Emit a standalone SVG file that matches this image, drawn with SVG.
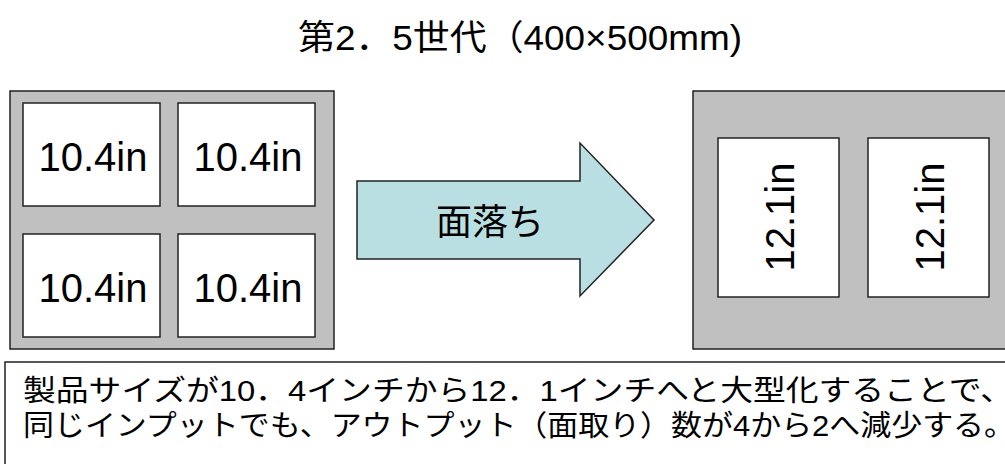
<svg xmlns="http://www.w3.org/2000/svg" width="1005" height="464" viewBox="0 0 1005 464">
<style>
.panel{fill:#C0C0C0;stroke:#222;stroke-width:1.5}
.cell{fill:#FFFFFF;stroke:#222;stroke-width:1.5}
.t{font-family:"Liberation Sans","Noto Sans CJK JP",sans-serif;fill:#000}
.lbl{font-size:40px;text-anchor:middle}
</style>
<rect width="1005" height="464" fill="#FFFFFF"/>
<g id="title"><text class="t" x="298" y="50" font-size="35" textLength="444" lengthAdjust="spacingAndGlyphs">第2．5世代（400×500mm)</text></g>
<g id="left-panel">
<rect class="panel" x="10" y="91" width="324" height="258"/>
</g>
<g id="cell-1"><rect class="cell" x="23" y="103" width="137" height="103"/><text class="t lbl" x="93" y="171">10.4in</text></g>
<g id="cell-2"><rect class="cell" x="178" y="103" width="137" height="103"/><text class="t lbl" x="248" y="171">10.4in</text></g>
<g id="cell-3"><rect class="cell" x="23" y="234" width="137" height="103"/><text class="t lbl" x="93" y="302">10.4in</text></g>
<g id="cell-4"><rect class="cell" x="178" y="234" width="137" height="103"/><text class="t lbl" x="248" y="302">10.4in</text></g>
<g id="connectors">
<g id="arrow">
<polygon points="357,181 580,181 580,143 654,220 580,296 580,259 357,259" fill="#B9DFE3" stroke="#222" stroke-width="1.5"/>
<text class="t" x="490" y="235" font-size="36" text-anchor="middle">面落ち</text>
</g>
</g>
<g id="right-panel">
<rect class="panel" x="693" y="91" width="330" height="258"/>
</g>
<g id="cell-5"><rect class="cell" x="718" y="138" width="121" height="159"/><text class="t lbl" transform="translate(794,217) rotate(-90)" x="0" y="0">12.1in</text></g>
<g id="cell-6"><rect class="cell" x="868" y="138" width="121" height="159"/><text class="t lbl" transform="translate(944,217) rotate(-90)" x="0" y="0">12.1in</text></g>
<g id="note">
<rect x="5" y="362" width="1030" height="120" fill="#FFFFFF" stroke="#222" stroke-width="1.5"/>
<text class="t" x="23" y="401" font-size="29" textLength="990" lengthAdjust="spacingAndGlyphs">製品サイズが10．4インチから12．1インチへと大型化することで、</text>
<text class="t" x="23" y="436" font-size="29" textLength="992" lengthAdjust="spacingAndGlyphs">同じインプットでも、アウトプット（面取り）数が4から2へ減少する。</text>
</g>
</svg>
